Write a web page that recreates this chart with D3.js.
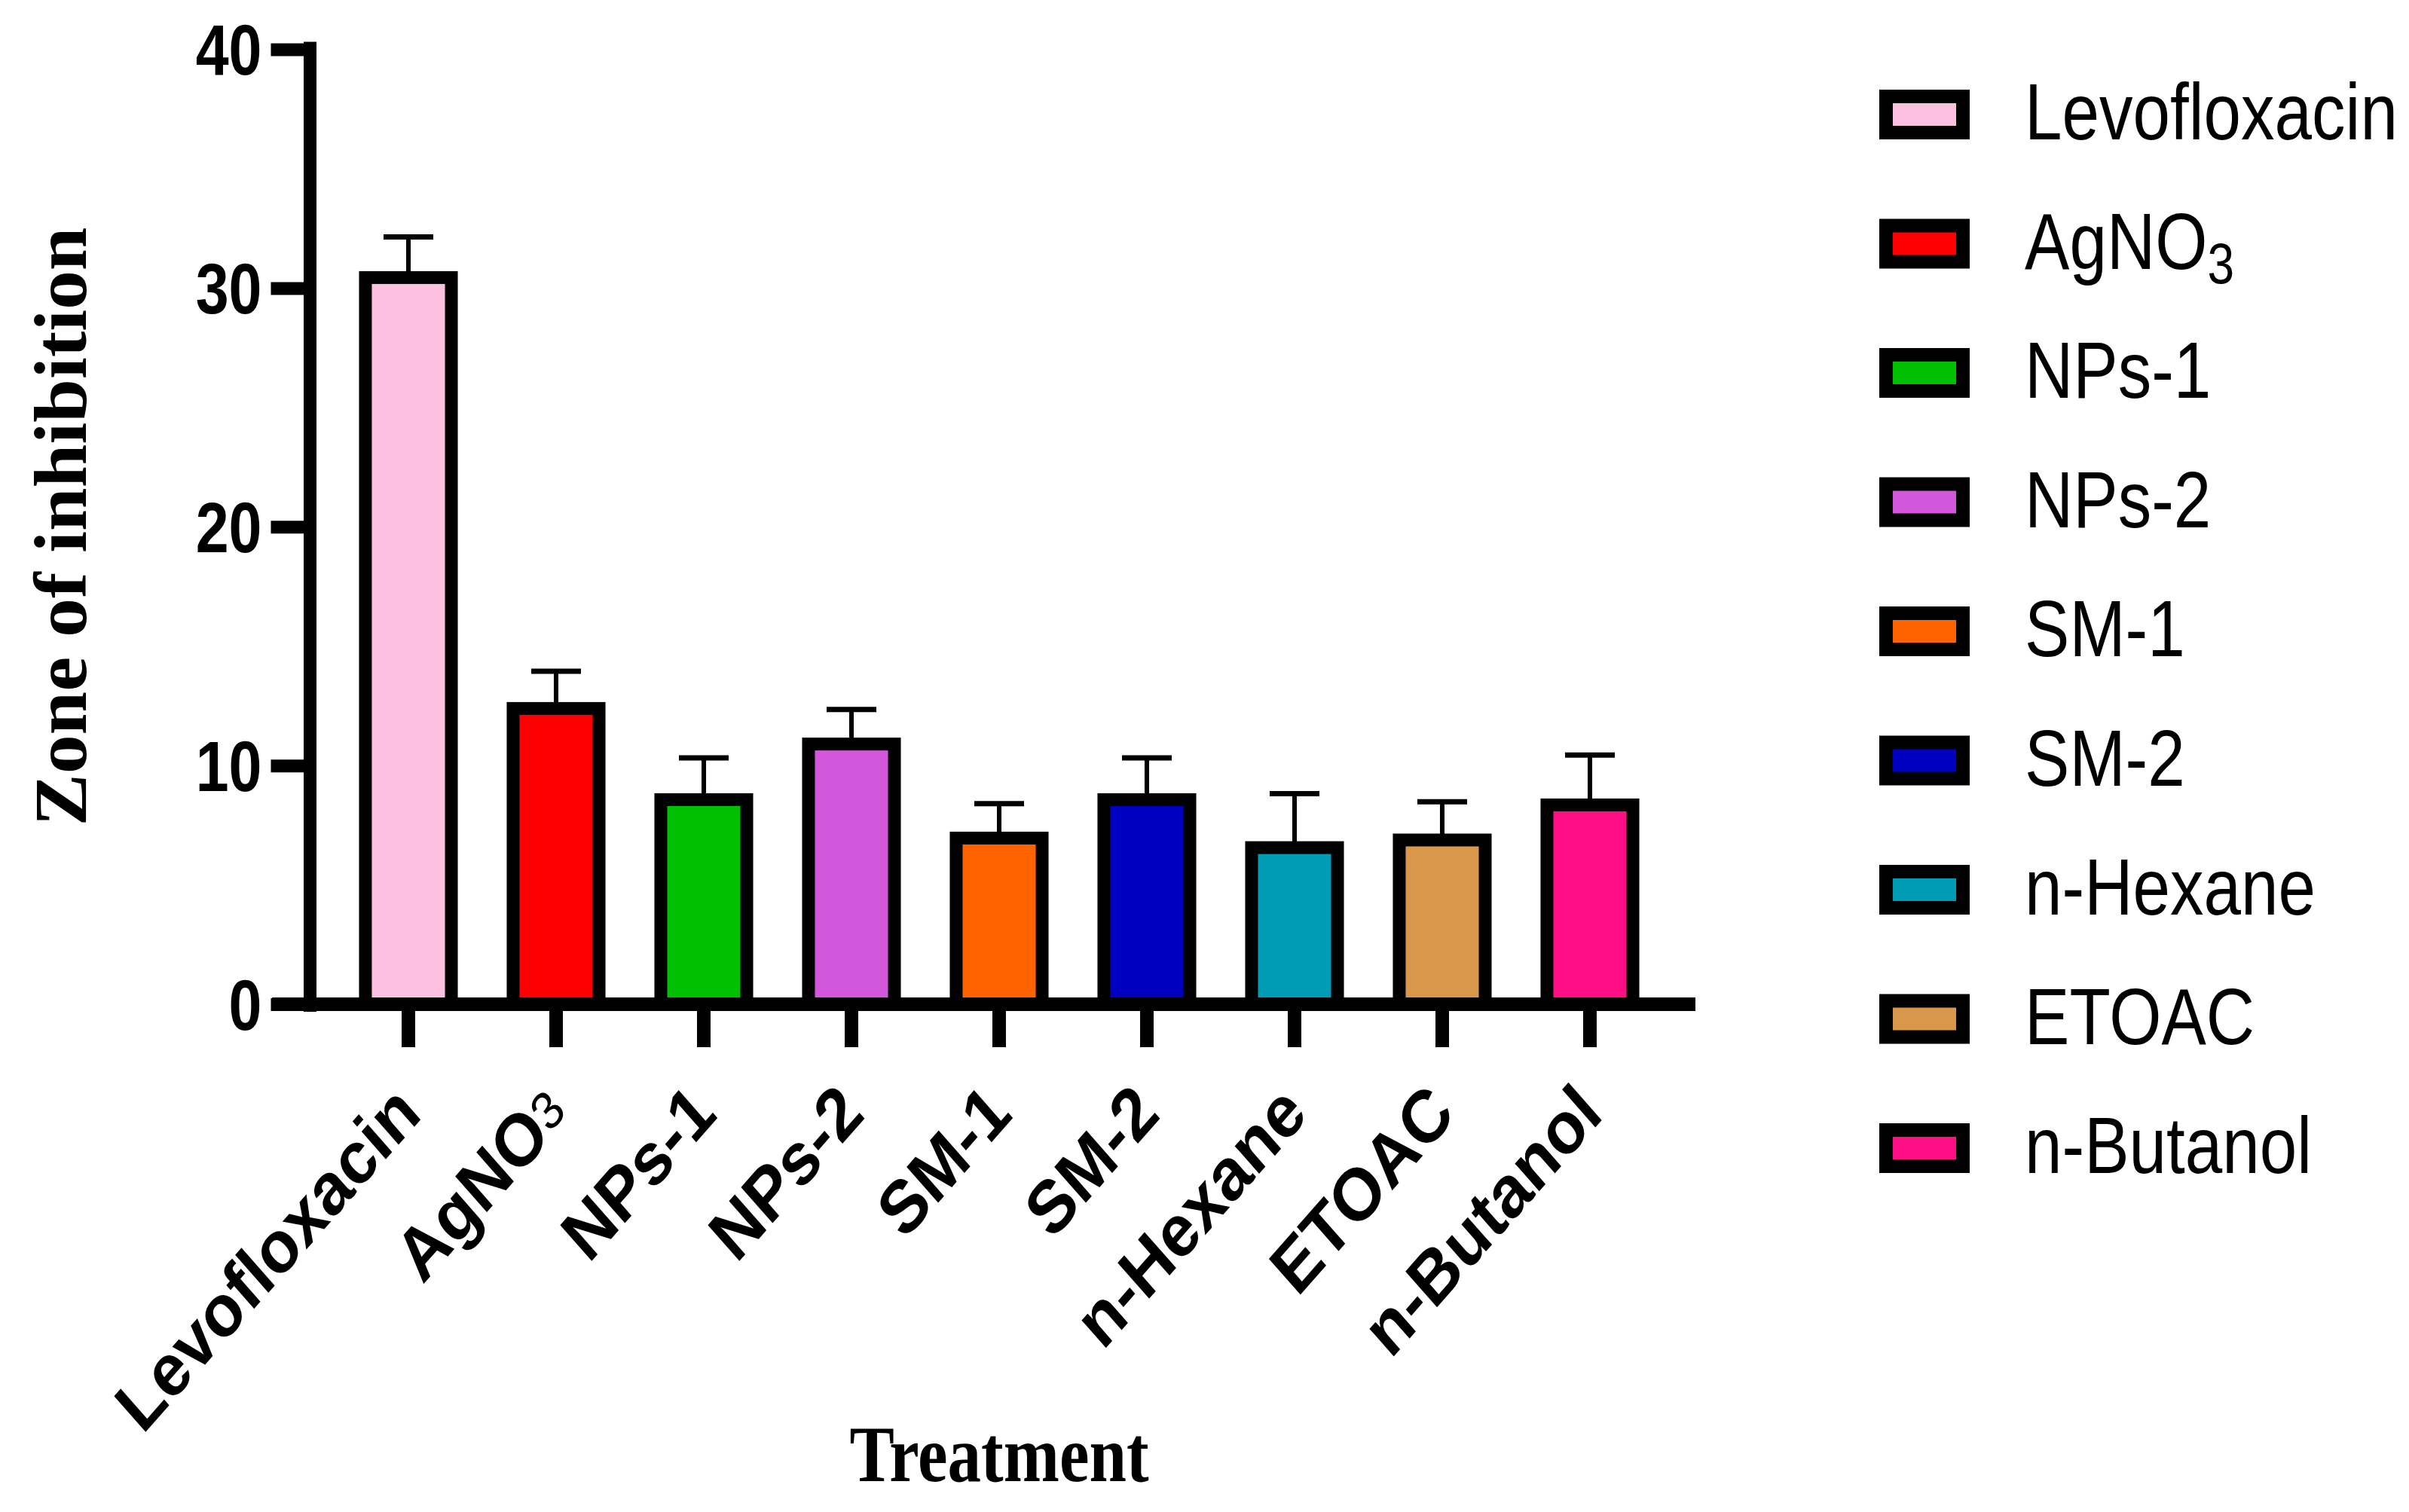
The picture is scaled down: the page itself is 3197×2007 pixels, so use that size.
<!DOCTYPE html>
<html>
<head>
<meta charset="utf-8">
<script src="https://cdn.jsdelivr.net/npm/d3@7"></script>
<style>
	body { margin: 0; background: #fff; }
	svg { display: block; }
</style>
</head>
<body>
<div id="forSvg"></div>
<script>
var treatments = ["Levofloxacin", "AgNO3", "NPs-1", "NPs-2", "SM-1", "SM-2", "n-Hexane", "ETOAC", "n-Butanol"];
var zoneMeans = [30.44, 12.39, 8.57, 10.90, 6.96, 8.57, 6.56, 6.88, 8.35];
var zoneSDs = [1.70, 1.56, 1.75, 1.45, 1.44, 1.75, 2.26, 1.60, 2.09];
var barColors = ["#FCC0E0", "#FF0000", "#00C000", "#D357DB", "#FF6300", "#0000C0", "#009BB5", "#D9974C", "#FF0F85"];
var yTickValues = [0, 10, 20, 30, 40];

var W = 3197, H = 2007;
var squeeze = 0.84; // the source picture is squashed sideways

var chart = d3.select("#forSvg").append("svg")
	.attr("width", W)
	.attr("height", H);

var data = treatments.map(function(t, i) {
	return {name: t, mean: zoneMeans[i], sd: zoneSDs[i], color: barColors[i]};
});

var x = d3.scaleBand()
	.domain(treatments)
	.range([444, 2208])
	.paddingInner(0.418)
	.paddingOuter(0.209);

var y = d3.scaleLinear()
	.domain([0, 40])
	.range([1333, 65.5]);

// write a name, with AgNO3 getting a small 3
var writeName = function(textSel, name, subShift) {
	if (name === "AgNO3") {
		textSel.append("tspan").text("AgNO");
		textSel.append("tspan")
			.attr("font-size", "0.72em")
			.attr("font-weight", "normal")
			.attr("dy", subShift)
			.text("3");
	} else {
		textSel.text(name);
	}
};

// error bars first, the bar hides the bottom of the stem
var err = chart.append("g").attr("class", "errors");
err.selectAll("line.stem")
	.data(data)
	.enter().append("line")
	.attr("class", "stem")
	.attr("x1", function(d) { return x(d.name) + x.bandwidth() / 2; })
	.attr("x2", function(d) { return x(d.name) + x.bandwidth() / 2; })
	.attr("y1", function(d) { return y(d.mean); })
	.attr("y2", function(d) { return y(d.mean + d.sd); })
	.attr("stroke", "#000")
	.attr("stroke-width", 6);

err.selectAll("line.cap")
	.data(data)
	.enter().append("line")
	.attr("class", "cap")
	.attr("x1", function(d) { return x(d.name) + x.bandwidth() / 2 - 33; })
	.attr("x2", function(d) { return x(d.name) + x.bandwidth() / 2 + 33; })
	.attr("y1", function(d) { return y(d.mean + d.sd); })
	.attr("y2", function(d) { return y(d.mean + d.sd); })
	.attr("stroke", "#000")
	.attr("stroke-width", 7);

chart.append("g").attr("class", "bars")
	.selectAll("rect")
	.data(data)
	.enter().append("rect")
	.attr("x", function(d) { return x(d.name); })
	.attr("y", function(d) { return y(d.mean); })
	.attr("width", x.bandwidth())
	.attr("height", function(d) { return y(0) - y(d.mean); })
	.attr("stroke", "#000")
	.attr("stroke-width", 17)
	.style("fill", function(d) { return d.color; });

// y axis
var yAxisX = 411.5;
var yAxis = chart.append("g")
	.attr("transform", "translate(" + yAxisX + ",0)")
	.call(d3.axisLeft(y).tickValues(yTickValues).tickSize(52).tickSizeOuter(0));
yAxis.select(".domain").remove();
yAxis.selectAll(".tick line")
	.attr("stroke", "#000")
	.attr("stroke-width", 17);
yAxis.selectAll(".tick text")
	.attr("x", null)
	.attr("dy", null)
	.attr("dominant-baseline", "central")
	.attr("transform", "translate(-64,0) scale(" + squeeze + ",1)")
	.attr("fill", "#000")
	.style("font-family", "'Liberation Sans', Arial, sans-serif")
	.style("font-weight", "bold")
	.style("font-size", "94px");
chart.append("line")
	.attr("x1", yAxisX).attr("x2", yAxisX)
	.attr("y1", y(40) - 10).attr("y2", y(0) + 10)
	.attr("stroke", "#000")
	.attr("stroke-width", 17);

// x axis
var xAxis = chart.append("g")
	.attr("transform", "translate(0," + y(0) + ")")
	.call(d3.axisBottom(x).tickSize(57).tickSizeOuter(0));
xAxis.select(".domain").remove();
xAxis.selectAll(".tick line")
	.attr("stroke", "#000")
	.attr("stroke-width", 18);
xAxis.selectAll(".tick text").remove();
chart.append("line")
	.attr("x1", 361).attr("x2", x.range()[1] + 42)
	.attr("y1", y(0)).attr("y2", y(0))
	.attr("stroke", "#000")
	.attr("stroke-width", 18);

var xLabels = chart.append("g").selectAll("g")
	.data(treatments)
	.enter().append("g")
	.attr("transform", function(d) {
		return "translate(" + (x(d) + x.bandwidth() / 2 + 20) + ",1482) scale(0.88,1) rotate(-45)";
	});
xLabels.append("text")
	.attr("text-anchor", "end")
	.style("font-family", "'Liberation Sans', Arial, sans-serif")
	.style("font-weight", "bold")
	.style("font-size", "98px")
	.each(function(d) { writeName(d3.select(this), d, "-0.1em"); });

// axis titles
chart.append("text")
	.attr("transform", "translate(1326,1966) scale(" + squeeze + ",1)")
	.attr("text-anchor", "middle")
	.style("font-family", "'Liberation Serif', 'Times New Roman', serif")
	.style("font-weight", "bold")
	.style("font-size", "106px")
	.text("Treatment");

chart.append("text")
	.attr("transform", "translate(114,699) rotate(-90)")
	.attr("text-anchor", "middle")
	.attr("textLength", 795)
	.attr("lengthAdjust", "spacingAndGlyphs")
	.style("font-family", "'Liberation Serif', 'Times New Roman', serif")
	.style("font-weight", "bold")
	.style("font-size", "100px")
	.text("Zone of inhibition");

// legend
var legY = d3.scalePoint()
	.domain(treatments)
	.range([152, 152 + 171.5 * (treatments.length - 1)]);

var leg = chart.append("g").selectAll("g")
	.data(data)
	.enter().append("g")
	.attr("transform", function(d) { return "translate(0," + legY(d.name) + ")"; });

leg.append("rect")
	.attr("x", 2503)
	.attr("y", -24)
	.attr("width", 102)
	.attr("height", 48)
	.attr("stroke", "#000")
	.attr("stroke-width", 18)
	.style("fill", function(d) { return d.color; });

leg.append("text")
	.attr("transform", "translate(2687,33) scale(" + squeeze + ",1)")
	.style("font-family", "'Liberation Sans', Arial, sans-serif")
	.style("font-size", "106px")
	.each(function(d) { writeName(d3.select(this), d.name, "0.25em"); });
</script>
</body>
</html>
